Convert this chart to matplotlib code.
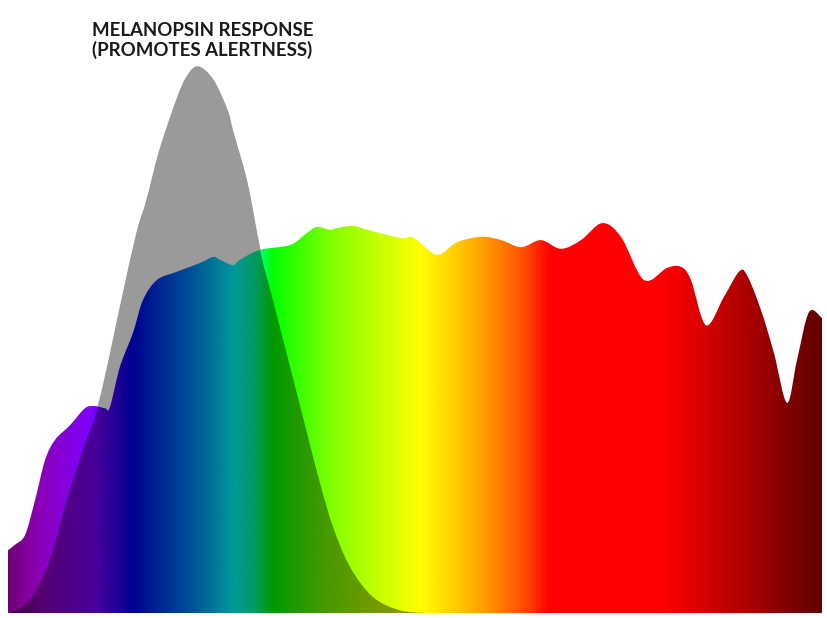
import numpy as np
import matplotlib
matplotlib.use("Agg")
import matplotlib.pyplot as plt
from matplotlib.colors import LinearSegmentedColormap
from matplotlib.path import Path
from matplotlib.patches import PathPatch

# ---- Data (wavelength in nm, relative response) ----
spec_wl = [380.0, 383.4, 388.4, 393.3, 398.2, 403.1, 410.5, 417.8, 422.8, 427.7,
           430.1, 435.0, 441.4, 446.3, 453.2, 463.0, 474.3, 480.7, 484.2, 490.6,
           494.0, 503.8, 518.6, 526.9, 531.8, 538.2, 541.7, 549.5, 556.4, 572.6,
           579.5, 590.8, 600.6, 612.4, 622.3, 632.1, 641.9, 651.7, 661.6, 671.9,
           681.2, 692.5, 703.8, 710.7, 715.6, 723.0, 731.8, 739.2, 743.1, 750.0,
           756.4, 762.8, 767.7, 773.6, 780.0]
spec_val = [0.115, 0.125, 0.143, 0.207, 0.280, 0.317, 0.344, 0.375, 0.379, 0.375,
            0.377, 0.451, 0.513, 0.573, 0.610, 0.625, 0.641, 0.652, 0.647, 0.637,
            0.647, 0.665, 0.674, 0.696, 0.707, 0.702, 0.705, 0.709, 0.702, 0.687,
            0.687, 0.656, 0.679, 0.689, 0.683, 0.670, 0.683, 0.667, 0.683, 0.714,
            0.689, 0.610, 0.632, 0.634, 0.610, 0.527, 0.579, 0.625, 0.619, 0.555,
            0.476, 0.385, 0.463, 0.551, 0.540]

mel_wl = [381.0, 390.8, 400.6, 409.0, 416.9, 425.2, 436.0, 443.4, 448.3, 454.7,
          463.0, 468.0, 473.4, 480.7, 487.6, 490.6, 497.4, 503.8, 510.2, 518.6,
          526.9, 533.3, 539.7, 548.1, 559.4, 572.6, 584.9]
mel_val = [0.0, 0.024, 0.097, 0.207, 0.299, 0.390, 0.573, 0.696, 0.756, 0.848,
           0.940, 0.982, 1.0, 0.976, 0.921, 0.879, 0.788, 0.665, 0.573, 0.451,
           0.330, 0.238, 0.158, 0.084, 0.029, 0.005, 0.0]

# spectrum colour stops (wavelength, rgb)
stop_wl = [380, 394.7, 420.3, 430, 440, 469.4, 490.6, 501.4, 509.7, 538.2,
           582.5, 607, 621.8, 634, 646.3, 702.8, 780]
stop_rgb = [(0.45, 0, 0.47), (0.55, 0, 0.72), (0.49, 0, 1.0), (0.3, 0, 1.0),
            (0, 0, 0.94), (0, 0.52, 1.0), (0, 1, 1), (0, 1, 0.6), (0, 1, 0),
            (0.5, 1, 0), (1, 1, 0), (1, 0.72, 0), (1, 0.5, 0), (1, 0.3, 0),
            (1, 0, 0), (1, 0, 0), (0.38, 0, 0)]

title_lines = ["MELANOPSIN RESPONSE", "(PROMOTES ALERTNESS)"]

WL_MIN, WL_MAX = 380, 780
Y_TOP = 1.1
GRAY = "#9a9a9a"
DARKEN = 0.6  # gray overlay multiplies the spectrum


# smooth outline through the points (catmull-rom drawn as bezier curves)
def curve_path(xs, ys, base):
    pts = np.column_stack([xs, ys])
    verts = [(xs[0], base), tuple(pts[0])]
    codes = [Path.MOVETO, Path.LINETO]
    n = len(pts)
    for i in range(n - 1):
        p0 = pts[max(i - 1, 0)]
        p1 = pts[i]
        p2 = pts[i + 1]
        p3 = pts[min(i + 2, n - 1)]
        verts += [tuple(p1 + (p2 - p0) / 6), tuple(p2 - (p3 - p1) / 6), tuple(p2)]
        codes += [Path.CURVE4] * 3
    verts += [(xs[-1], base), (xs[0], base)]
    codes += [Path.LINETO, Path.CLOSEPOLY]
    return Path(verts, codes)


fig = plt.figure(figsize=(8.28, 6.18), dpi=100)
ax = fig.add_axes([8 / 828, 5 / 618, 814 / 828, 546 * Y_TOP / 618])
ax.set_xlim(WL_MIN, WL_MAX)
ax.set_ylim(0, Y_TOP)
ax.axis("off")

spec_area = curve_path(spec_wl, spec_val, 0.0)
spec_above = curve_path(spec_wl, spec_val, Y_TOP)
mel_area = curve_path(mel_wl, mel_val, 0.0)

# ---- Spectrum colour map ----
pos = [(w - WL_MIN) / (WL_MAX - WL_MIN) for w in stop_wl]
cmap = LinearSegmentedColormap.from_list("spectrum", list(zip(pos, stop_rgb)))
grad = cmap(np.linspace(0, 1, 1200))[None, :, :3]

# bright spectrum
img = ax.imshow(grad, extent=[WL_MIN, WL_MAX, 0, Y_TOP], aspect="auto",
                interpolation="bilinear", zorder=1)
img.set_clip_path(spec_area, ax.transData)

# spectrum seen through the melanopsin curve (darker)
dark = ax.imshow(grad * DARKEN, extent=[WL_MIN, WL_MAX, 0, Y_TOP], aspect="auto",
                 interpolation="bilinear", zorder=2)
dark.set_clip_path(mel_area, ax.transData)

# melanopsin curve where there is no spectrum behind it
gray = PathPatch(spec_above, facecolor=GRAY, lw=0, transform=ax.transData, zorder=3)
ax.add_patch(gray)
gray.set_clip_path(mel_area, ax.transData)

# gray rim hides the dark fringe on the curve's outline
rim = PathPatch(mel_area, facecolor="none", edgecolor=GRAY, lw=1.0,
                transform=ax.transData, zorder=4)
ax.add_patch(rim)
rim.set_clip_path(spec_above, ax.transData)

# ---- Title ----
for i, line in enumerate(title_lines):
    fig.text(92 / 828, 1 - (36 + 20 * i) / 618, line, fontfamily="Lato",
             fontweight="bold", fontsize=13.4, color="#1a1a1a", va="baseline")

fig.savefig("out.png", dpi=100)
